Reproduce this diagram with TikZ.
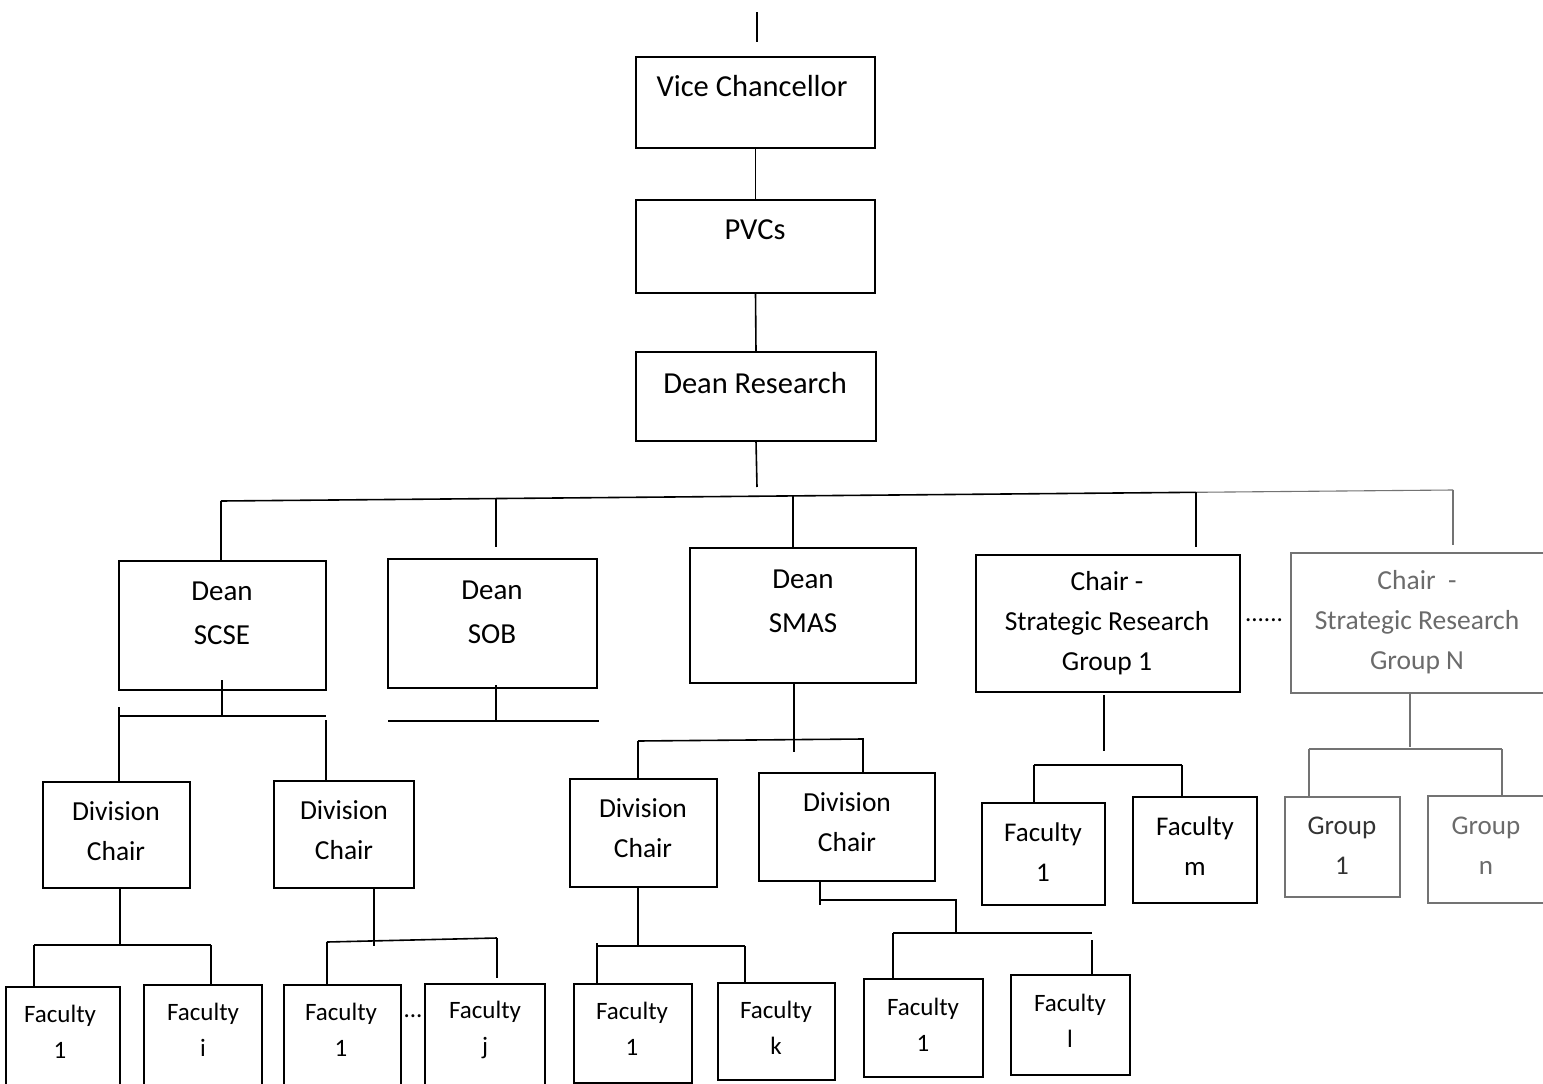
\documentclass[tikz,border=0pt]{standalone}
\usepackage{fontspec}
\setmainfont{Carlito}
\newcommand{\fA}{\fontsize{30.5}{44}\selectfont}
\newcommand{\fB}{\fontsize{29}{44}\selectfont}
\newcommand{\fC}{\fontsize{27.5}{40}\selectfont}
\newcommand{\fD}{\fontsize{25}{36}\selectfont}
\newcommand{\fE}{\fontsize{27}{40}\selectfont}
\tikzset{
  bx/.style={draw=black,line width=1.6pt,inner sep=0pt,outer sep=0pt},
  gbx/.style={draw=black!55,line width=1.1pt,inner sep=0pt,outer sep=0pt},
  ln/.style={line width=1.6pt,draw=black},
  gln/.style={line width=1.1pt,draw=black!55},
  tx/.style={align=center,inner sep=0pt,text=black},
  gtx/.style={align=center,inner sep=0pt,text=black!58}
}
% name, left, top, right, bottom, text x, text y, text style, text
\newcommand{\obox}[9]{%
  \node[bx,minimum width={(#4)-(#2)},minimum height={(#5)-(#3)}] (#1) at ({((#2)+(#4))/2},{((#3)+(#5))/2}) {};
  \node[#8] (#1t) at (#6,#7) {#9};}
\newcommand{\gbox}[9]{%
  \node[gbx,minimum width={(#4)-(#2)},minimum height={(#5)-(#3)}] (#1) at ({((#2)+(#4))/2},{((#3)+(#5))/2}) {};
  \node[#8] (#1t) at (#6,#7) {#9};}
\begin{document}
\begin{tikzpicture}[x=1pt,y=-1pt]
\useasboundingbox (0,0) rectangle (1543,1084);
\clip (0,0) rectangle (1543,1084);
\fill[white] (0,0) rectangle (1543,1084);

% ---- boxes ----
\obox{vc}{636}{57}{875}{148}{752}{86}{tx,font=\fA}{Vice Chancellor}
\obox{pvc}{636}{200}{875}{293}{755}{230}{tx,font=\fA}{PVCs}
\obox{dr}{636}{352}{876}{441}{755}{383}{tx,font=\fA}{Dean Research}

\obox{scse}{119}{561}{326}{690}{222}{613}{tx,font=\fB}{Dean\\SCSE}
\obox{sob}{388}{559}{597}{688}{492}{612}{tx,font=\fB}{Dean\\SOB}
\obox{smas}{690}{548}{916}{683}{803}{601}{tx,font=\fB}{Dean\\SMAS}
\obox{srgA}{976}{555}{1240}{692}{1107}{623}{tx,font=\fC}{Chair -\\Strategic Research\\Group 1}
\gbox{srgN}{1291}{553}{1560}{693}{1417}{622}{gtx,font=\fC}{Chair~~-\\Strategic Research\\Group N}
\node[tx,font=\fD] (dotsA) at (1264,620) {......};

\obox{dA}{43}{782}{190}{888}{116}{831}{tx,font=\fC}{Division\\Chair}
\obox{dB}{274}{781}{414}{888}{344}{830}{tx,font=\fC}{Division\\Chair}
\obox{dC}{570}{779}{717}{887}{643}{828}{tx,font=\fC}{Division\\Chair}
\obox{dD}{759}{773}{935}{881}{847}{822}{tx,font=\fC}{Division\\Chair}

\obox{fA}{6}{987}{120}{1095}{60}{1032}{tx,font=\fD}{Faculty\\1}
\obox{fB}{144}{985}{262}{1095}{203}{1030}{tx,font=\fD}{Faculty\\i}
\obox{fC}{284}{985}{401}{1095}{341}{1030}{tx,font=\fD}{Faculty\\1}
\node[tx,font=\fD] (dotsB) at (413,1016) {...};
\obox{fD}{425}{984}{545}{1095}{485}{1030}{tx,font=\fD}{Faculty\\j}
\obox{fE}{574}{984}{692}{1083}{632}{1029}{tx,font=\fD}{Faculty\\1}
\obox{fF}{718}{983}{835}{1080}{776}{1028}{tx,font=\fD}{Faculty\\k}
\obox{fG}{864}{979}{983}{1077}{923}{1025}{tx,font=\fD}{Faculty\\1}
\obox{fH}{1011}{975}{1130}{1075}{1070}{1021}{tx,font=\fD}{Faculty\\l}

\obox{fI}{982}{803}{1105}{905}{1043}{852}{tx,font=\fE}{Faculty\\1}
\obox{fJ}{1133}{797}{1257}{903}{1195}{846}{tx,font=\fE}{Faculty\\m}
\gbox{gA}{1285}{797}{1400}{897}{1342}{846}{tx,font=\fE,text=black!80}{Group\\1}
\gbox{gB}{1428}{796}{1560}{903}{1486}{846}{gtx,font=\fE}{Group\\n}

% ---- connectors ----
\coordinate (topA) at (757,12);
\coordinate (topB) at (757,42);
\draw[ln] (topA) -- (topB);
\draw[ln] (vc.south) -- (pvc.north);
\draw[ln] (pvc.south) -- (dr.north);
\coordinate (drEnd) at (757,487);
\draw[ln] (dr.south) -- (drEnd);

% main bus
\coordinate (busL) at (221,501);
\coordinate (busM) at (1196,492.3);
\coordinate (busR) at (1453,490);
\draw[ln] (busL) -- (busM);
\draw[gln] (busM) -- (busR);
\coordinate (sobA) at (496,498.5);
\coordinate (sobB) at (496,547);
\coordinate (smasA) at (793,496);
\coordinate (smasB) at (793,548);
\coordinate (srgAb) at (1196,547);
\coordinate (srgNb) at (1453,545);
\draw[ln] (busL) -- (scse.north -| busL);
\draw[ln] (sobA) -- (sobB);
\draw[ln] (smasA) -- (smasB);
\draw[ln] (busM) -- (srgAb);
\draw[gln] (busR) -- (srgNb);

% SCSE subtree
\coordinate (sc1) at (222,680);
\coordinate (sc2) at (222,716);
\coordinate (sc3) at (119,716);
\coordinate (sc4) at (326,716);
\coordinate (sc5) at (119,707);
\coordinate (sc6) at (326,720);
\draw[ln] (sc1) -- (sc2);
\draw[ln] (sc3) -- (sc4);
\draw[ln] (sc5) -- (sc5 |- dA.north);
\draw[ln] (sc6) -- (sc6 |- dB.north);

% SOB
\coordinate (so1) at (496,685);
\coordinate (so2) at (496,721);
\coordinate (so3) at (388,721);
\coordinate (so4) at (599,721);
\draw[ln] (so1) -- (so2);
\draw[ln] (so3) -- (so4);

% Division A
\coordinate (da1) at (120,945);
\coordinate (da2) at (34,945);
\coordinate (da3) at (211,945);
\draw[ln] (dA.south -| da1) -- (da1);
\draw[ln] (da2) -- (da3);
\draw[ln] (da2) -- (da2 |- fA.north);
\draw[ln] (da3) -- (da3 |- fB.north);

% Division B
\coordinate (db1) at (374,946);
\coordinate (db2) at (327,942);
\coordinate (db3) at (497,938);
\coordinate (db4) at (497,978);
\draw[ln] (dB.south -| db1) -- (db1);
\draw[ln] (db2) -- (db3);
\draw[ln] (db2) -- (db2 |- fC.north);
\draw[ln] (db3) -- (db4);

% SMAS subtree
\coordinate (sm1) at (794,752);
\coordinate (sm2) at (638,741);
\coordinate (sm3) at (863,739);
\coordinate (sm4) at (863,738);
\draw[ln] (smas.south -| sm1) -- (sm1);
\draw[ln] (sm2) -- (sm3);
\draw[ln] (sm2) -- (sm2 |- dC.north);
\draw[ln] (sm4) -- (sm4 |- dD.north);

% Division C
\coordinate (dc1) at (638,947);
\coordinate (dc2) at (597,946);
\coordinate (dc3) at (745,946);
\coordinate (dc4) at (597,943);
\draw[ln] (dC.south -| dc1) -- (dc1);
\draw[ln] (dc2) -- (dc3);
\draw[ln] (dc4) -- (dc4 |- fE.north);
\draw[ln] (dc3) -- (dc3 |- fF.north);

% Division D
\coordinate (dd1) at (820,905);
\coordinate (dd2) at (820,900);
\coordinate (dd3) at (956,900);
\coordinate (dd4) at (956,933);
\coordinate (dd5) at (893,933);
\coordinate (dd6) at (1092,933);
\coordinate (dd7) at (1092,940);
\draw[ln] (dD.south -| dd1) -- (dd1);
\draw[ln] (dd2) -- (dd3) -- (dd4);
\draw[ln] (dd5) -- (dd6);
\draw[ln] (dd5) -- (dd5 |- fG.north);
\draw[ln] (dd7) -- (dd7 |- fH.north);

% Strategic Research Group 1
\coordinate (sa1) at (1104,695);
\coordinate (sa2) at (1104,751);
\coordinate (sa3) at (1034,765);
\coordinate (sa4) at (1182,765);
\draw[ln] (sa1) -- (sa2);
\draw[ln] (sa3) -- (sa4);
\draw[ln] (sa3) -- (sa3 |- fI.north);
\draw[ln] (sa4) -- (sa4 |- fJ.north);

% Strategic Research Group N
\coordinate (sn1) at (1410,747);
\coordinate (sn2) at (1309,749);
\coordinate (sn3) at (1502,749);
\draw[gln] (srgN.south -| sn1) -- (sn1);
\draw[gln] (sn2) -- (sn3);
\draw[gln] (sn2) -- (sn2 |- gA.north);
\draw[gln] (sn3) -- (sn3 |- gB.north);
\end{tikzpicture}
\end{document}
